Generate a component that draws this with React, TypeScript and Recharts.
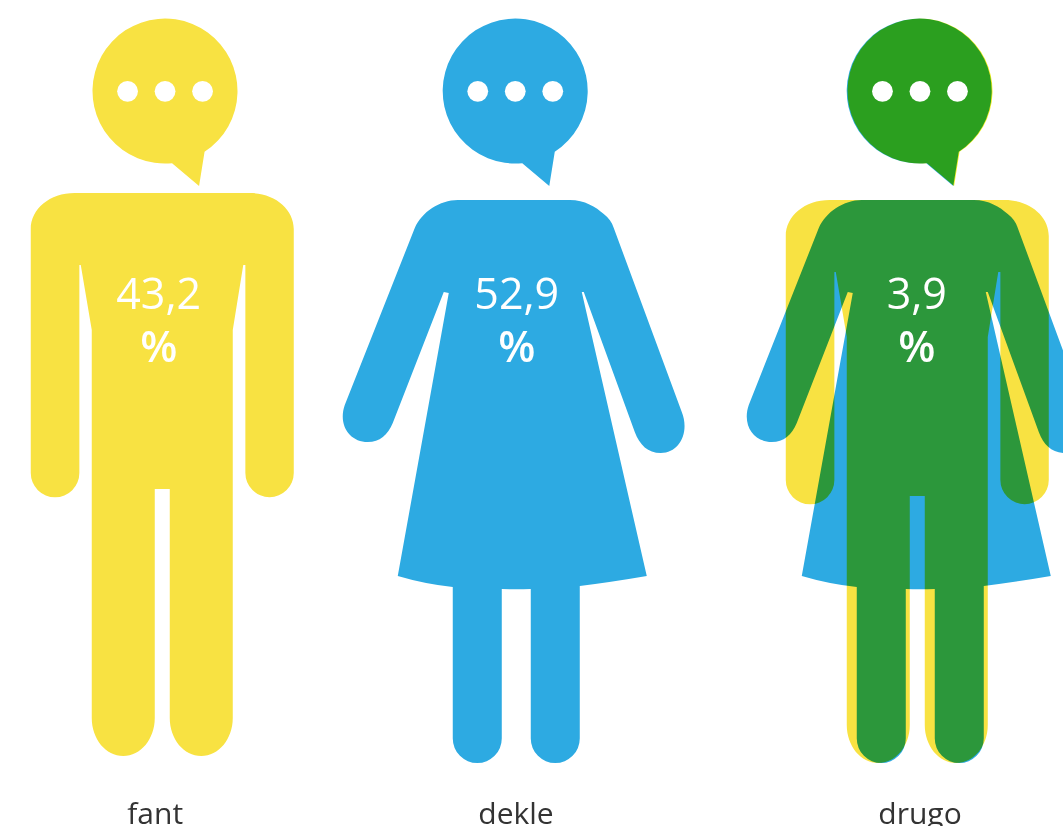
import { Bar, BarChart, LabelList, XAxis, YAxis } from 'recharts';

// ── Data ─────────────────────────────────────────────
const categories = ['fant', 'dekle', 'drugo'];
const shares = [43.2, 52.9, 3.9];
const figures = [['man'], ['woman'], ['man', 'woman']];

const chartData = categories.map((category, i) => ({
  category,
  share: shares[i],
  figures: figures[i],
}));

// ── Pictogram layout (offsets from each band centre) ─
const YELLOW = '#F8E242';
const BLUE = '#2DAAE2';
const FONT = '"Open Sans", sans-serif';

const MAN_PATH =
  'M75 193 H250 C275 193 294 209 294 229 V473 A24.2 24.2 0 0 1 245.6 473 V265 H243.5 L233 330 V718 ' +
  'C233 739 219 756 201.5 756 C184 756 170 739 170 718 V489 H155 V718 C155 739 141 756 123.5 756 ' +
  'C106 756 92 739 92 718 V330 L81 265 H79.6 V473 A24.3 24.3 0 0 1 31 473 V229 C31 209 50 193 75 193 Z';

const WOMAN_PATH =
  'M458 200 H570 C585 200 596 207 604 214 C609 218 612 222 614 228 L682 412 C690 432 680 453 661 453 ' +
  'C648 453 640 445 635 432 L584 292 H582 L647 576 Q612 582 580 586 V738.5 A24.5 24.5 0 0 1 531 738.5 V589 ' +
  'Q516 589.5 502 589 V738.5 A24.5 24.5 0 0 1 453 738.5 V587 Q425 584 398 576 L449 293 L444 292 L393 423 ' +
  'C388 435 380 442 368 442 C350 442 338 425 345 405 L415 228 C422 212 440 200 458 200 Z';

// speech bubble drawn around x = 0, circle centre at y = 91
const BUBBLE_PATH = 'M39.5 151.8 A72.5 72.5 0 1 0 7 163.2 L34 186 Z';
const BUBBLE_DOTS = [-37.5, 0, 37.5];

const KINDS: Record<string, { path: string; originX: number; bubbleShift: number; fill: string }> = {
  man: { path: MAN_PATH, originX: 162.5, bubbleShift: 2.8, fill: YELLOW },
  woman: { path: WOMAN_PATH, originX: 515, bubbleShift: 0.5, fill: BLUE },
};

// figure centre relative to its band, per category and kind
const FIGURE_SHIFT: Record<string, number>[] = [
  { man: -14.67 },
  { woman: -16.5 },
  { man: 31.67, woman: 33.17 },
];
const BODY_DROP: Record<string, number>[] = [{ man: 0 }, { woman: 0 }, { man: 7, woman: 0 }];
const BUBBLE_FILL: Record<string, string>[] = [
  { man: YELLOW },
  { woman: BLUE },
  { man: '#F4EE22', woman: BLUE },
];
const VALUE_SHIFT = [-18.2, -14.5, 31.2];
const LABEL_SHIFT = [-22, -15.5, 34.2];

const multiply = { mixBlendMode: 'multiply' as const };

// ── Pictogram bar shape ──────────────────────────────
function FigureShape(props: any) {
  const { x, width, index, payload } = props;
  const bandCentre = x + width / 2;
  const kinds: string[] = payload.figures;

  return (
    <g>
      {kinds.map((kind) => {
        const spec = KINDS[kind];
        const centre = bandCentre + FIGURE_SHIFT[index][kind];
        return (
          <path
            key={`body-${kind}`}
            d={spec.path}
            fill={spec.fill}
            style={multiply}
            transform={`translate(${centre - spec.originX} ${BODY_DROP[index][kind]})`}
          />
        );
      })}
      {kinds.map((kind) => {
        const spec = KINDS[kind];
        const centre = bandCentre + FIGURE_SHIFT[index][kind] + spec.bubbleShift;
        return (
          <path
            key={`bubble-${kind}`}
            d={BUBBLE_PATH}
            fill={BUBBLE_FILL[index][kind]}
            style={multiply}
            transform={`translate(${centre} 0)`}
          />
        );
      })}
      {BUBBLE_DOTS.map((dx) => {
        const last = kinds[kinds.length - 1];
        const centre = bandCentre + FIGURE_SHIFT[index][last] + KINDS[last].bubbleShift + (kinds.length > 1 ? 0.7 : 0);
        return <circle key={dx} cx={centre + dx} cy={91.3} r={10.4} fill="#fff" />;
      })}
    </g>
  );
}

function ValueLabel(props: any) {
  const { x, width, value, index } = props;
  const cx = x + width / 2 + VALUE_SHIFT[index];
  const text = Number(value).toFixed(1).replace('.', ',');
  return (
    <g fill="#fff" fontFamily={FONT} fontSize={43} textAnchor="middle">
      <text x={cx} y={308.5}>
        {text}
      </text>
      <text x={cx} y={362} fontWeight={600}>
        %
      </text>
    </g>
  );
}

function CategoryTick(props: any) {
  const { x, y, index, payload } = props;
  return (
    <text
      x={x + LABEL_SHIFT[index]}
      y={y + 28}
      textAnchor="middle"
      fontFamily={FONT}
      fontSize={30}
      fill="#333333"
    >
      {payload.value}
    </text>
  );
}

export default function App() {
  return (
    <div style={{ position: 'absolute', left: 0, top: 0, width: 1063, height: 826, overflow: 'hidden', background: '#fff' }}>
      <BarChart
        width={1063}
        height={826}
        data={chartData}
        margin={{ top: 0, right: 0, bottom: 0, left: 0 }}
      >
        <XAxis
          dataKey="category"
          height={36}
          axisLine={false}
          tickLine={false}
          tickMargin={0}
          interval={0}
          tick={<CategoryTick />}
        />
        <YAxis hide domain={[0, 100]} />
        <Bar dataKey="share" isAnimationActive={false} shape={<FigureShape />}>
          <LabelList dataKey="share" content={<ValueLabel />} />
        </Bar>
      </BarChart>
    </div>
  );
}
